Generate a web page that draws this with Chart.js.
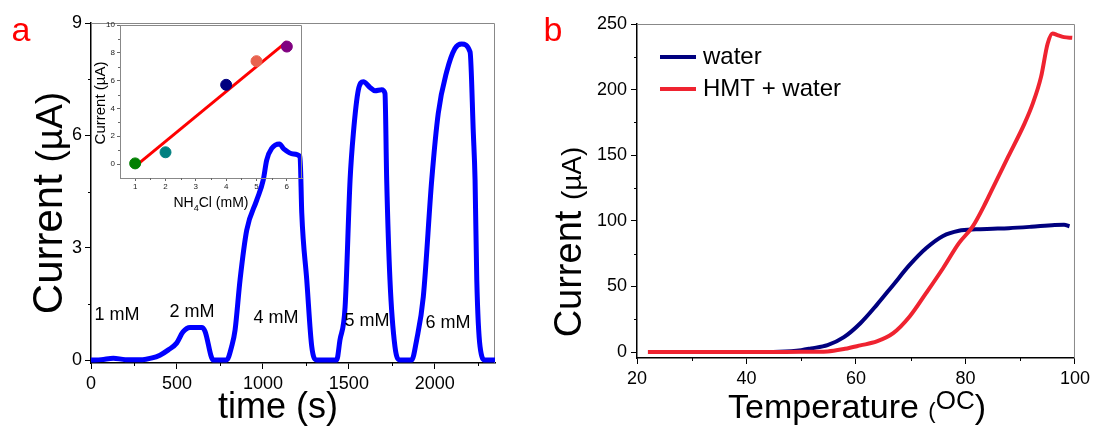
<!DOCTYPE html>
<html>
<head>
<meta charset="UTF-8">
<title>Current response</title>
<script src="https://cdn.jsdelivr.net/npm/chart.js"></script>
<style>
  body { margin: 0; background: #fff; }
  #wrap { position: relative; width: 1094px; height: 430px; background: #fff; }
  canvas { position: absolute; }
</style>
</head>
<body>
<div id="wrap">
  <canvas id="chartA" width="540" height="430" style="left:0;top:0"></canvas>
  <canvas id="chartInset" width="260" height="215" style="left:60px;top:0"></canvas>
  <canvas id="chartB" width="554" height="430" style="left:540px;top:0"></canvas>
</div>
<script>
// ---- panel a: current vs time
const timeS = [0, 60, 130, 200, 300, 350, 401, 450, 498, 535, 576, 644, 663, 711, 789, 818, 838, 867, 906, 964, 1002, 1022, 1051, 1096, 1123, 1177, 1216, 1226, 1255, 1284, 1313, 1429, 1448, 1478, 1507, 1526, 1555, 1584, 1623, 1652, 1691, 1710, 1720, 1739, 1768, 1797, 1865, 1894, 1933, 1982, 2020, 2069, 2117, 2156, 2205, 2224, 2234, 2244, 2263, 2292, 2350];
const currentA = [0, 0.01, 0.05, 0.01, 0.01, 0.05, 0.13, 0.27, 0.45, 0.75, 0.87, 0.87, 0.77, 0, 0, 0.36, 0.8, 2.14, 3.47, 4.27, 4.81, 5.34, 5.65, 5.77, 5.63, 5.5, 5.43, 3.92, 2.14, 0.36, 0, 0, 0.53, 1.42, 4.81, 6.05, 7.21, 7.43, 7.28, 7.19, 7.22, 7.12, 4.81, 2.14, 0.36, 0, 0, 0.53, 1.69, 4.81, 6.59, 7.7, 8.32, 8.44, 8.23, 6.05, 4.81, 2.14, 0.36, 0, 0];
const concLabels = ['1 mM', '2 mM', '4 mM', '5 mM', '6 mM'];
const concLabelTime = [151, 588, 1076, 1605, 2077];
const concLabelCurrent = [1.2, 1.28, 1.12, 1.04, 0.99];
const xMajorA = [0, 500, 1000, 1500, 2000];
const xMinorA = [250, 750, 1250, 1750, 2250];
const yMajorA = [0, 3, 6, 9];
const yMinorA = [1.5, 4.5, 7.5];

// ---- inset: calibration
const nh4cl = [1, 2, 4, 5, 6];
const insetCurrent = [0.05, 0.85, 5.7, 7.4, 8.45];
const fitX = [1, 6];
const fitY = [-0.17, 8.8];
const insetPointColors = ['#008000', '#008080', '#000080', '#e8634f', '#800080'];
const xMajorIn = [1, 2, 3, 4, 5, 6];
const xMinorIn = [1.5, 2.5, 3.5, 4.5, 5.5];
const yMajorIn = [0, 2, 4, 6, 8, 10];
const yMinorIn = [1, 3, 5, 7, 9];

// ---- panel b: current vs temperature
const tempWater = [22, 30, 40, 46, 50, 51.8, 54.8, 57.8, 60.8, 63.8, 66.8, 69.8, 72.8, 75.9, 78.8, 81.9, 85, 87.9, 92, 96.3, 98, 99];
const curWater = [0, 0, 0, 0.3, 1.5, 2.8, 5.3, 11.4, 22, 36, 51.2, 66.4, 79.1, 88.5, 92.5, 93.6, 94, 94.4, 95.5, 96.9, 97, 95.8];
const tempHmt = [22, 30, 40, 50, 54.8, 58, 60.8, 63.8, 66.8, 69.8, 72.8, 75.9, 78.8, 81.3, 83.7, 84.8, 87.8, 90.8, 92.3, 93.8, 95, 95.9, 96.8, 98, 99.5];
const curHmt = [0, 0, 0, 0.2, 0.5, 2.5, 5.1, 8.1, 14.4, 27.1, 44.9, 63.9, 83, 95.6, 114, 123.5, 148.9, 174.3, 189.5, 209.7, 235, 242.8, 241.5, 240, 239.5];
const xMajorB = [20, 40, 60, 80, 100];
const xMinorB = [30, 50, 70, 90];
const yMajorB = [0, 50, 100, 150, 200, 250];
const yMinorB = [25, 75, 125, 175, 225];

const FONT = '"Liberation Sans", Arial, sans-serif';
Chart.defaults.font.family = FONT;
Chart.defaults.color = '#000';
Chart.defaults.animation = false;

// draw a line of text made of parts with different sizes
function drawRich(ctx, x, y, parts, rotate, color) {
  ctx.save();
  ctx.translate(x, y);
  if (rotate) ctx.rotate(-Math.PI / 2);
  ctx.fillStyle = color || '#000';
  ctx.textBaseline = 'alphabetic';
  ctx.textAlign = 'left';
  let total = 0;
  parts.forEach(p => {
    ctx.font = p.size + 'px ' + FONT;
    p.w = ctx.measureText(p.text).width;
    total += p.w;
  });
  let cx = -total / 2;
  parts.forEach(p => {
    ctx.font = p.size + 'px ' + FONT;
    ctx.fillText(p.text, cx, p.dy || 0);
    cx += p.w;
  });
  ctx.restore();
}

const framePlugin = {
  id: 'frame',
  beforeDatasetsDraw(chart, args, opts) {
    const { ctx, chartArea: a } = chart;
    ctx.save();
    ctx.strokeStyle = opts.color || '#888';
    ctx.lineWidth = 1;
    ctx.beginPath();
    ctx.moveTo(a.left, a.top + 0.5);
    ctx.lineTo(a.right - 0.5, a.top + 0.5);
    ctx.lineTo(a.right - 0.5, a.bottom);
    ctx.stroke();
    ctx.restore();
  }
};

const minorTicksPlugin = {
  id: 'minorTicks',
  afterDraw(chart, args, opts) {
    const ctx = chart.ctx;
    const sx = chart.scales.x, sy = chart.scales.y;
    ctx.save();
    ctx.strokeStyle = opts.color || '#000';
    ctx.lineWidth = 1;
    (opts.x || []).forEach(v => {
      const px = Math.round(sx.getPixelForValue(v)) + 0.5;
      ctx.beginPath();
      ctx.moveTo(px, sx.top);
      ctx.lineTo(px, sx.top + opts.len);
      ctx.stroke();
    });
    (opts.y || []).forEach(v => {
      const py = Math.round(sy.getPixelForValue(v)) + 0.5;
      ctx.beginPath();
      ctx.moveTo(sy.right, py);
      ctx.lineTo(sy.right - opts.len, py);
      ctx.stroke();
    });
    ctx.restore();
  }
};

const textPlugin = {
  id: 'texts',
  afterDraw(chart, args, opts) {
    const ctx = chart.ctx;
    (opts.items || []).forEach(it => drawRich(ctx, it.x, it.y, it.parts, it.rotate, it.color));
    if (opts.dataLabels) {
      const d = opts.dataLabels;
      ctx.save();
      ctx.font = d.size + 'px ' + FONT;
      ctx.fillStyle = '#000';
      ctx.textAlign = 'center';
      ctx.textBaseline = 'middle';
      d.text.forEach((t, i) => {
        ctx.fillText(t, chart.scales.x.getPixelForValue(d.x[i]), chart.scales.y.getPixelForValue(d.y[i]));
      });
      ctx.restore();
    }
  }
};

const legendPlugin = {
  id: 'lineLegend',
  afterDraw(chart, args, opts) {
    const ctx = chart.ctx;
    ctx.save();
    ctx.font = opts.size + 'px ' + FONT;
    ctx.textBaseline = 'middle';
    chart.data.datasets.forEach((ds, i) => {
      const y = opts.y + i * opts.gap;
      ctx.strokeStyle = ds.borderColor;
      ctx.lineWidth = ds.borderWidth;
      ctx.beginPath();
      ctx.moveTo(opts.x, y);
      ctx.lineTo(opts.x + opts.len, y);
      ctx.stroke();
      ctx.fillStyle = '#000';
      ctx.fillText(ds.label, opts.x + opts.len + 7, y);
    });
    ctx.restore();
  }
};

function fixSize(w, h) {
  return function (scale) {
    if (w !== undefined) scale.width = w;
    if (h !== undefined) scale.height = h;
  };
}
function setTicks(values) {
  return function (scale) {
    scale.ticks = values.map(v => ({ value: v }));
  };
}
const plainLabel = v => String(v);

// ---------- panel a
new Chart(document.getElementById('chartA'), {
  type: 'line',
  data: {
    datasets: [{
      data: timeS.map((t, i) => ({ x: t, y: currentA[i] })),
      borderColor: '#0000ff',
      borderWidth: 5,
      pointRadius: 0,
      cubicInterpolationMode: 'monotone',
      fill: false
    }]
  },
  options: {
    responsive: false,
    layout: { padding: { left: 0, top: 23, right: 45, bottom: 0 } },
    plugins: {
      legend: { display: false },
      tooltip: { enabled: false },
      frame: { color: '#888' },
      minorTicks: { x: xMinorA, y: yMinorA, len: 3 },
      texts: {
        items: [
          { x: 21, y: 41, parts: [{ text: 'a', size: 34 }], color: '#ff0000' },
          { x: 278, y: 418, parts: [{ text: 'time (s)', size: 36 }] },
          { x: 62, y: 203, rotate: true, parts: [{ text: 'Current ', size: 42 }, { text: '(\u00b5A)', size: 37 }] }
        ],
        dataLabels: { text: concLabels, x: concLabelTime, y: concLabelCurrent, size: 18 }
      }
    },
    scales: {
      x: {
        type: 'linear', min: 0, max: 2350,
        afterFit: fixSize(undefined, 67),
        afterBuildTicks: setTicks(xMajorA),
        ticks: { font: { size: 18 }, padding: 4, maxRotation: 0, autoSkip: false, callback: plainLabel },
        grid: { drawOnChartArea: false, tickLength: 6, color: '#000' },
        border: { color: '#000', width: 1.5 }
      },
      y: {
        min: -0.08, max: 9,
        afterFit: fixSize(91, undefined),
        afterBuildTicks: setTicks(yMajorA),
        ticks: { font: { size: 18 }, padding: 3, autoSkip: false, callback: plainLabel },
        grid: { drawOnChartArea: false, tickLength: 6, color: '#000' },
        border: { color: '#000', width: 1.5 }
      }
    }
  },
  plugins: [framePlugin, minorTicksPlugin, textPlugin]
});

// ---------- inset
new Chart(document.getElementById('chartInset'), {
  type: 'scatter',
  data: {
    datasets: [{
      data: nh4cl.map((c, i) => ({ x: c, y: insetCurrent[i] })),
      backgroundColor: insetPointColors,
      borderColor: insetPointColors,
      pointRadius: 5.5,
      showLine: false
    }, {
      type: 'line',
      data: fitX.map((c, i) => ({ x: c, y: fitY[i] })),
      borderColor: '#ff0000',
      borderWidth: 3,
      pointRadius: 0
    }]
  },
  options: {
    responsive: false,
    layout: { padding: { left: 0, top: 25, right: 18, bottom: 0 } },
    plugins: {
      legend: { display: false },
      tooltip: { enabled: false },
      frame: { color: '#888' },
      minorTicks: { x: xMinorIn, y: yMinorIn, len: 2, color: '#666' },
      texts: {
        items: [
          { x: 45, y: 103, rotate: true, parts: [{ text: 'Current (\u00b5A)', size: 15 }] },
          { x: 151, y: 207, parts: [{ text: 'NH', size: 14 }, { text: '4', size: 9, dy: 4 }, { text: 'Cl (mM)', size: 14 }] }
        ]
      }
    },
    scales: {
      x: {
        type: 'linear', min: 0.5, max: 6.5,
        afterFit: fixSize(undefined, 37),
        afterBuildTicks: setTicks(xMajorIn),
        ticks: { font: { size: 8 }, padding: 1, color: '#222', autoSkip: false, callback: plainLabel },
        grid: { drawOnChartArea: false, tickLength: 3, color: '#666' },
        border: { color: '#888', width: 1 }
      },
      y: {
        min: -1, max: 10,
        afterFit: fixSize(60, undefined),
        afterBuildTicks: setTicks(yMajorIn),
        ticks: { font: { size: 8 }, padding: 2, color: '#222', autoSkip: false, callback: plainLabel },
        grid: { drawOnChartArea: false, tickLength: 3, color: '#666' },
        border: { color: '#888', width: 1 }
      }
    }
  },
  plugins: [framePlugin, minorTicksPlugin, textPlugin]
});

// ---------- panel b
new Chart(document.getElementById('chartB'), {
  type: 'line',
  data: {
    datasets: [{
      label: 'water',
      data: tempWater.map((t, i) => ({ x: t, y: curWater[i] })),
      borderColor: '#00007f',
      borderWidth: 4,
      pointRadius: 0,
      cubicInterpolationMode: 'monotone',
      order: 1
    }, {
      label: 'HMT + water',
      data: tempHmt.map((t, i) => ({ x: t, y: curHmt[i] })),
      borderColor: '#ef2330',
      borderWidth: 4,
      pointRadius: 0,
      cubicInterpolationMode: 'monotone',
      order: 0
    }]
  },
  options: {
    responsive: false,
    layout: { padding: { left: 0, top: 24, right: 14, bottom: 0 } },
    plugins: {
      legend: { display: false },
      tooltip: { enabled: false },
      frame: { color: '#888' },
      minorTicks: { x: xMinorB, y: yMinorB, len: 3 },
      lineLegend: { x: 120, y: 57, gap: 32, len: 36, size: 24 },
      texts: {
        items: [
          { x: 13, y: 41, parts: [{ text: 'b', size: 34 }], color: '#ff0000' },
          { x: 317, y: 418, parts: [{ text: 'Temperature ', size: 34 }, { text: '(', size: 22 }, { text: 'OC', size: 26, dy: -9 }, { text: ')', size: 34 }] },
          { x: 41, y: 242, rotate: true, parts: [{ text: 'Current ', size: 38 }, { text: '(\u00b5A)', size: 28 }] }
        ]
      }
    },
    scales: {
      x: {
        type: 'linear', min: 20, max: 100,
        afterFit: fixSize(undefined, 72),
        afterBuildTicks: setTicks(xMajorB),
        ticks: { font: { size: 18 }, padding: 4, maxRotation: 0, autoSkip: false, callback: plainLabel },
        grid: { drawOnChartArea: false, tickLength: 6, color: '#000' },
        border: { color: '#000', width: 1.5 }
      },
      y: {
        min: -4.5, max: 250,
        afterFit: fixSize(97, undefined),
        afterBuildTicks: setTicks(yMajorB),
        ticks: { font: { size: 18 }, padding: 4, autoSkip: false, callback: plainLabel },
        grid: { drawOnChartArea: false, tickLength: 6, color: '#000' },
        border: { color: '#000', width: 1.5 }
      }
    }
  },
  plugins: [framePlugin, minorTicksPlugin, textPlugin, legendPlugin]
});
</script>
</body>
</html>
